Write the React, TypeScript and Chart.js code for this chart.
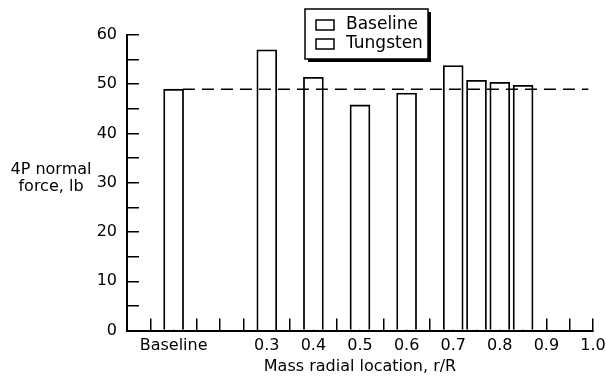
import React, { useEffect, useRef } from 'react';
import { Chart, registerables } from 'chart.js';

Chart.register(...registerables);

// ---- data ----
const seriesNames = ['Baseline', 'Tungsten'];
const baselineX = [0.1];
const baselineValues = [49];
const tungstenX = [0.3, 0.4, 0.5, 0.6, 0.7, 0.75, 0.8, 0.85];
const tungstenValues = [57, 51.4, 45.8, 48.2, 53.8, 50.8, 50.4, 49.8];
const refLineX = [0.12, 0.99];
const refLineValues = [49, 49];
const xTickValues = [0.1, 0.3, 0.4, 0.5, 0.6, 0.7, 0.8, 0.9, 1.0];
const xTickLabels = ['Baseline', '0.3', '0.4', '0.5', '0.6', '0.7', '0.8', '0.9', '1.0'];
const yTickValues = [0, 10, 20, 30, 40, 50, 60];
const yTitleLines = ['4P normal', 'force, lb'];
const xTitle = 'Mass radial location, r/R';

const FONT = 'DejaVu Sans';

const overlayPlugin = {
  id: 'overlay',
  afterDraw(chart: any) {
    const ctx = chart.ctx as CanvasRenderingContext2D;
    ctx.save();
    // y-axis title (horizontal, two lines)
    ctx.fillStyle = '#000';
    ctx.font = `16px "${FONT}"`;
    ctx.textAlign = 'center';
    ctx.textBaseline = 'middle';
    ctx.fillText(yTitleLines[0], 51, 170);
    ctx.fillText(yTitleLines[1], 51, 187);

    // legend box with shadow
    const lx = 305, ly = 9, lw = 123, lh = 50;
    ctx.fillStyle = '#000';
    ctx.fillRect(lx + 3, ly + 3, lw, lh);
    ctx.fillStyle = '#fff';
    ctx.fillRect(lx, ly, lw, lh);
    ctx.strokeStyle = '#000';
    ctx.lineWidth = 1.5;
    ctx.strokeRect(lx, ly, lw, lh);
    const names = chart.data.datasets
      .filter((d: any) => d.label && seriesNames.includes(d.label))
      .map((d: any) => d.label);
    ctx.font = `17px "${FONT}"`;
    names.forEach((name: string, i: number) => {
      const cy = 25 + i * 19;
      ctx.fillStyle = '#fff';
      ctx.fillRect(316, cy - 5, 18, 10);
      ctx.strokeStyle = '#000';
      ctx.lineWidth = 1.5;
      ctx.strokeRect(316, cy - 5, 18, 10);
      ctx.fillStyle = '#000';
      ctx.textAlign = 'left';
      ctx.textBaseline = 'middle';
      ctx.fillText(name, 346, cy);
    });
    ctx.restore();
  },
};

export default function App() {
  const ref = useRef<HTMLCanvasElement | null>(null);

  useEffect(() => {
    document.body.style.margin = '0';
    const canvas = ref.current;
    if (!canvas) return;
    Chart.defaults.font.family = FONT;
    Chart.defaults.font.size = 16;
    Chart.defaults.color = '#000';

    const chart = new Chart(canvas, {
      type: 'bar',
      data: {
        datasets: [
          {
            type: 'line',
            label: 'ref',
            data: refLineX.map((x, i) => ({ x, y: refLineValues[i] })),
            borderColor: '#000',
            borderWidth: 1.6,
            borderDash: [12, 7],
            pointRadius: 0,
            fill: false,
            order: 0,
          } as any,
          {
            type: 'bar',
            label: seriesNames[0],
            data: baselineX.map((x, i) => ({ x, y: baselineValues[i] })),
            backgroundColor: '#fff',
            borderColor: '#000',
            borderWidth: 1.8,
            barThickness: 20,
            grouped: false,
            order: 1,
          } as any,
          {
            type: 'bar',
            label: seriesNames[1],
            data: tungstenX.map((x, i) => ({ x, y: tungstenValues[i] })),
            backgroundColor: '#fff',
            borderColor: '#000',
            borderWidth: 1.8,
            barThickness: 20,
            grouped: false,
            order: 1,
          } as any,
        ],
      },
      options: {
        responsive: false,
        animation: false,
        layout: { padding: { left: 0, top: 35, right: 13, bottom: 0 } },
        plugins: {
          legend: { display: false },
          tooltip: { enabled: false },
        },
        scales: {
          x: {
            type: 'linear',
            position: 'bottom',
            min: 0,
            max: 1,
            offset: false,
            grid: {
              offset: false,
              drawOnChartArea: false,
              drawTicks: true,
              tickLength: -12,
              color: '#000',
              lineWidth: 1.5,
            },
            border: { display: true, color: '#000', width: 2 },
            ticks: {
              stepSize: 0.05,
              autoSkip: false,
              maxTicksLimit: 100,
              maxRotation: 0,
              minRotation: 0,
              padding: 17.5,
              color: '#000',
              font: { size: 16, family: FONT },
              callback: (v: any) => {
                const idx = xTickValues.findIndex((t) => Math.abs(t - Number(v)) < 1e-6);
                return idx >= 0 ? xTickLabels[idx] : '';
              },
            },
            title: {
              display: true,
              text: xTitle,
              color: '#000',
              font: { size: 16, family: FONT },
              padding: { top: 0, bottom: 1 },
            },
            afterFit: (s: any) => {
              s.height = 46.5;
              s.paddingLeft = 0;
              s.paddingRight = 0;
            },
          },
          y: {
            type: 'linear',
            position: 'left',
            min: 0,
            max: 60,
            grid: {
              drawOnChartArea: false,
              drawTicks: true,
              tickLength: -12,
              color: '#000',
              lineWidth: 1.5,
            },
            border: { display: true, color: '#000', width: 2 },
            ticks: {
              stepSize: 5,
              maxTicksLimit: 100,
              autoSkip: false,
              padding: 22,
              color: '#000',
              font: { size: 16, family: FONT },
              callback: (v: any) => {
                const n = Number(v);
                return yTickValues.includes(n) ? String(n) : '';
              },
            },
            afterFit: (s: any) => {
              s.width = 127;
              s.paddingTop = 0;
              s.paddingBottom = 0;
            },
          },
        },
      },
      plugins: [overlayPlugin],
    });

    return () => chart.destroy();
  }, []);

  return (
    <div style={{ width: 606, height: 377, background: '#fff' }}>
      <canvas ref={ref} width={606} height={377} />
    </div>
  );
}
